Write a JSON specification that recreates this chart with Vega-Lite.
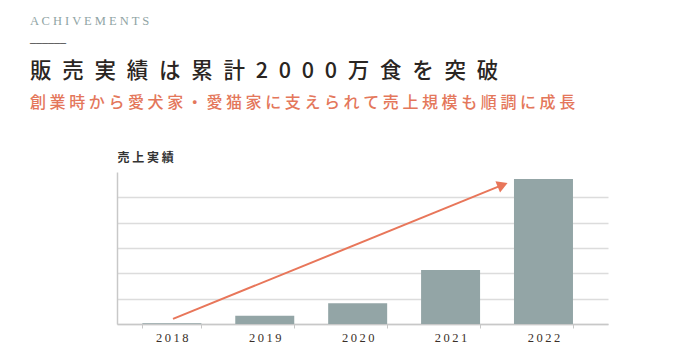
{
  "$schema": "https://vega.github.io/schema/vega-lite/v6.json",
  "background": "white",
  "padding": {"left": 30, "top": 15, "right": 5, "bottom": 5},
  "config": {"view": {"stroke": null}},
  "title": {
    "text": "A C H I V E M E N T S",
    "subtitle": "──────",
    "anchor": "start",
    "frame": "bounds",
    "font": "Liberation Serif",
    "fontSize": 12.5,
    "fontWeight": "normal",
    "color": "#8fa4a4",
    "subtitleFont": "DejaVu Sans",
    "subtitleFontSize": 10,
    "subtitleColor": "#555555",
    "subtitlePadding": 11,
    "offset": 12
  },
  "vconcat": [
    {
      "width": 491,
      "height": 152,
      "title": {
        "text": "販\u2002売\u2002実\u2002績\u2002は\u2002累\u2002計\u20022\u20020\u20020\u20020\u2002万\u2002食\u2002を\u2002突\u2002破",
        "subtitle": "創 業 時 か ら 愛 犬 家 ・ 愛 猫 家 に 支 え ら れ て 売 上 規 模 も 順 調 に 成 長",
        "anchor": "start",
        "font": "Noto Sans CJK JP",
        "fontSize": 21.5,
        "fontWeight": 500,
        "color": "#2a2522",
        "subtitleFont": "Noto Sans CJK JP",
        "subtitleFontSize": 16,
        "subtitleFontWeight": 500,
        "subtitleColor": "#e4775b",
        "subtitlePadding": 13,
        "offset": 40
      },
      "layer": [
        {
          "data": {"values": [
            {"year": "2018", "sales": 0.03},
            {"year": "2019", "sales": 0.33},
            {"year": "2020", "sales": 0.82},
            {"year": "2021", "sales": 2.13},
            {"year": "2022", "sales": 5.72}
          ]},
          "mark": {"type": "bar", "color": "#93a5a6"},
          "encoding": {
            "x": {
              "field": "year", "type": "nominal",
              "scale": {"paddingInner": 0.365, "paddingOuter": 0.325, "align": 0.42},
              "axis": {
                "title": null, "labelAngle": 0,
                "labelExpr": "join(split(datum.label, ''), '\u2009')",
                "labelFont": "Liberation Serif", "labelFontSize": 12.5, "labelColor": "#3a2f29",
                "domainColor": "#c8c8c8", "domainWidth": 1.5,
                "tickColor": "#c8c8c8", "tickBand": "extent", "tickSize": 4,
                "labelPadding": 3, "grid": false
              }
            },
            "y": {
              "field": "sales", "type": "quantitative",
              "scale": {"domain": [0, 6], "nice": false},
              "axis": {
                "values": [0, 1, 2, 3, 4, 5],
                "labels": false, "ticks": false,
                "domainColor": "#c8c8c8", "domainWidth": 1.5,
                "grid": true, "gridColor": "#dcdcdc", "gridWidth": 1.5,
                "minExtent": 87,
                "title": "売 上 実 績", "titleAngle": 0, "titleX": 0, "titleY": -15,
                "titleAlign": "left", "titleBaseline": "middle",
                "titleFont": "Noto Sans CJK JP", "titleFontSize": 12, "titleFontWeight": "bold",
                "titleColor": "#333333"
              }
            }
          }
        },
        {
          "data": {"values": [
            {"px": 2018.016, "py": 0.2},
            {"px": 2021.564, "py": 5.49}
          ]},
          "mark": {"type": "line", "color": "#e8765a", "strokeWidth": 2},
          "encoding": {
            "x": {"field": "px", "type": "quantitative", "scale": {"domain": [2017.413, 2022.698], "nice": false, "zero": false}, "axis": null},
            "y": {
              "field": "py", "type": "quantitative",
              "axis": {
                "values": [0, 1, 2, 3, 4, 5],
                "labels": false, "ticks": false,
                "domainColor": "#c8c8c8", "domainWidth": 1.5,
                "grid": true, "gridColor": "#dcdcdc", "gridWidth": 1.5,
                "minExtent": 87,
                "title": "売 上 実 績", "titleAngle": 0, "titleX": 0, "titleY": -15,
                "titleAlign": "left", "titleBaseline": "middle",
                "titleFont": "Noto Sans CJK JP", "titleFontSize": 12, "titleFontWeight": "bold",
                "titleColor": "#333333"
              }
            }
          }
        },
        {
          "data": {"values": [{"px": 2021.564, "py": 5.49}]},
          "mark": {"type": "point", "shape": "triangle-up", "angle": 67.9, "size": 150, "filled": true, "opacity": 1, "color": "#e8765a"},
          "encoding": {
            "x": {"field": "px", "type": "quantitative", "scale": {"domain": [2017.413, 2022.698], "nice": false, "zero": false}, "axis": null},
            "y": {
              "field": "py", "type": "quantitative",
              "axis": {
                "values": [0, 1, 2, 3, 4, 5],
                "labels": false, "ticks": false,
                "domainColor": "#c8c8c8", "domainWidth": 1.5,
                "grid": true, "gridColor": "#dcdcdc", "gridWidth": 1.5,
                "minExtent": 87,
                "title": "売 上 実 績", "titleAngle": 0, "titleX": 0, "titleY": -15,
                "titleAlign": "left", "titleBaseline": "middle",
                "titleFont": "Noto Sans CJK JP", "titleFontSize": 12, "titleFontWeight": "bold",
                "titleColor": "#333333"
              }
            }
          }
        }
      ],
      "resolve": {"scale": {"x": "independent"}, "axis": {"x": "independent"}}
    }
  ]
}
